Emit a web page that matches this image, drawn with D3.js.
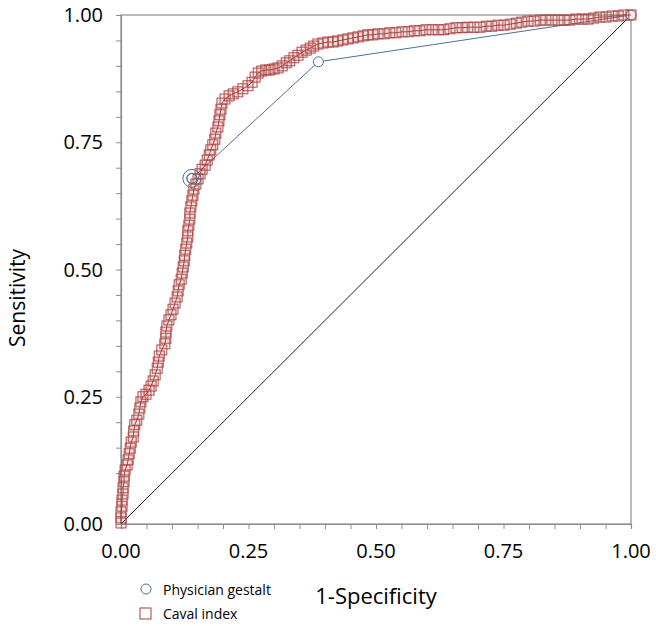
<!DOCTYPE html>
<html>
<head>
<meta charset="utf-8">
<script src="https://cdn.jsdelivr.net/npm/d3@7"></script>
<style>
  html, body { margin: 0; padding: 0; background: #fff; }
  text { font-family: "Open Sans", "Lato", sans-serif; }
</style>
</head>
<body>
<div id="chart"></div>
<script>
// ---- data ----
const tickValues = [0, 0.25, 0.5, 0.75, 1];
const tickLabels = ["0.00", "0.25", "0.50", "0.75", "1.00"];
const minorTicks = d3.range(0, 21).map(i => i / 20);

const physicianFpr  = [0.139, 0.387, 1.000];
const physicianSens = [0.679, 0.908, 1.000];
const physicianHighlight = [[0.139, 0.679]];

const cavalFpr = [
  0.000,0.000,0.000,0.002,0.002,0.004,0.004,0.006,0.006,0.008,
  0.012,0.014,0.016,0.018,0.020,0.024,0.025,0.027,0.031,0.035,
  0.037,0.039,0.043,0.049,0.055,0.059,0.063,0.067,0.071,0.073,
  0.075,0.080,0.086,0.088,0.088,0.090,0.094,0.098,0.102,0.106,
  0.110,0.112,0.114,0.118,0.120,0.122,0.124,0.125,0.127,0.129,
  0.131,0.131,0.133,0.135,0.135,0.137,0.139,0.141,0.143,0.147,
  0.151,0.155,0.159,0.165,0.169,0.173,0.176,0.180,0.184,0.186,
  0.190,0.192,0.194,0.196,0.198,0.204,0.212,0.220,0.229,0.239,
  0.249,0.257,0.263,0.269,0.276,0.284,0.292,0.300,0.308,0.316,
  0.324,0.331,0.339,0.347,0.355,0.363,0.371,0.378,0.386,0.396,
  0.406,0.416,0.425,0.435,0.445,0.455,0.465,0.475,0.484,0.494,
  0.504,0.516,0.527,0.539,0.551,0.563,0.575,0.586,0.598,0.610,
  0.622,0.633,0.645,0.657,0.669,0.680,0.692,0.704,0.716,0.727,
  0.739,0.751,0.763,0.775,0.786,0.798,0.810,0.822,0.833,0.845,
  0.857,0.869,0.880,0.892,0.904,0.916,0.927,0.939,0.951,0.963,
  0.975,0.986,1.000
];
const cavalSens = [
  0.002,0.012,0.024,0.035,0.047,0.059,0.071,0.083,0.094,0.106,
  0.116,0.126,0.138,0.149,0.161,0.171,0.183,0.195,0.204,0.216,
  0.228,0.240,0.250,0.255,0.263,0.271,0.281,0.293,0.306,0.318,
  0.330,0.342,0.354,0.365,0.377,0.389,0.401,0.411,0.422,0.434,
  0.446,0.458,0.470,0.481,0.493,0.505,0.517,0.528,0.540,0.552,
  0.564,0.576,0.587,0.599,0.611,0.623,0.635,0.646,0.658,0.668,
  0.678,0.688,0.697,0.705,0.715,0.725,0.735,0.745,0.756,0.768,
  0.780,0.792,0.804,0.815,0.827,0.835,0.841,0.845,0.849,0.855,
  0.861,0.868,0.878,0.886,0.890,0.892,0.892,0.894,0.896,0.900,
  0.906,0.910,0.916,0.921,0.927,0.931,0.935,0.939,0.943,0.945,
  0.947,0.947,0.949,0.951,0.953,0.955,0.957,0.959,0.961,0.961,
  0.963,0.963,0.965,0.965,0.967,0.967,0.969,0.969,0.971,0.971,
  0.971,0.971,0.973,0.975,0.975,0.976,0.976,0.976,0.978,0.978,
  0.980,0.980,0.982,0.984,0.986,0.988,0.988,0.990,0.990,0.990,
  0.990,0.990,0.990,0.992,0.992,0.992,0.994,0.996,0.996,0.998,
  0.998,1.000,1.000
];
const legendLabels = ["Physician gestalt", "Caval index"];

// ---- chart ----
const W = 656, H = 626;
const margin = { left: 121, top: 15, right: 25, bottom: 102 };
const iw = W - margin.left - margin.right;   // 510
const ih = H - margin.top - margin.bottom;   // 509

const svg = d3.select("#chart").append("svg")
  .attr("width", W).attr("height", H);
const g = svg.append("g").attr("transform", `translate(${margin.left},${margin.top})`);

const x = d3.scaleLinear().domain([0, 1]).range([0, iw]);
const y = d3.scaleLinear().domain([0, 1]).range([ih, 0]);

const axisColor = "#8c8c8c";

// box
g.append("rect").attr("x", 0).attr("y", 0).attr("width", iw).attr("height", ih)
  .attr("fill", "none").attr("stroke", axisColor).attr("stroke-width", 1.2);

// minor ticks
const xAxis = g.append("g").attr("transform", `translate(0,${ih})`)
  .call(d3.axisBottom(x).tickValues(minorTicks).tickSize(5).tickFormat(""));
const yAxis = g.append("g")
  .call(d3.axisLeft(y).tickValues(minorTicks).tickSize(5).tickFormat(""));
[xAxis, yAxis].forEach(a => {
  a.select(".domain").attr("stroke", axisColor).attr("stroke-width", 1.2);
  a.selectAll(".tick line").attr("stroke", axisColor);
});

// tick labels
g.append("g").selectAll("text").data(tickValues).join("text")
  .attr("x", d => x(d)).attr("y", ih + 34)
  .attr("text-anchor", "middle").attr("font-size", 20).attr("fill", "#000")
  .text((d, i) => tickLabels[i]);
g.append("g").selectAll("text").data(tickValues).join("text")
  .attr("x", -18).attr("y", d => y(d) + 7)
  .attr("text-anchor", "end").attr("font-size", 20).attr("fill", "#000")
  .text((d, i) => tickLabels[i]);

// axis titles
g.append("text").attr("x", iw / 2).attr("y", ih + 80)
  .attr("text-anchor", "middle").attr("font-size", 22).text("1-Specificity");
svg.append("text")
  .attr("transform", `translate(${25},${298}) rotate(-90)`)
  .attr("text-anchor", "middle").attr("font-size", 21).text("Sensitivity");

// diagonal
g.append("line").attr("x1", x(0)).attr("y1", y(0)).attr("x2", x(1)).attr("y2", y(1))
  .attr("stroke", "#222").attr("stroke-width", 1);

// physician gestalt
const blue = "#4d6f99";
const phys = physicianFpr.map((f, i) => [f, physicianSens[i]]);
const line = d3.line().x(d => x(d[0])).y(d => y(d[1]));
g.append("path").datum(phys).attr("d", line)
  .attr("fill", "none").attr("stroke", blue).attr("stroke-width", 1);
g.append("g").selectAll("circle").data(phys).join("circle")
  .attr("cx", d => x(d[0])).attr("cy", d => y(d[1])).attr("r", 5)
  .attr("fill", "#fff").attr("stroke", blue).attr("stroke-width", 1);

// caval index
const red = "#a63c3a";
const caval = cavalFpr.map((f, i) => [f, cavalSens[i]]);
const sq = 10;
g.append("path").datum(caval).attr("d", line)
  .attr("fill", "none").attr("stroke", red).attr("stroke-width", 1);
g.append("g").selectAll("rect").data(caval).join("rect")
  .attr("x", d => x(d[0]) - sq / 2).attr("y", d => y(d[1]) - sq / 2)
  .attr("width", sq).attr("height", sq)
  .attr("fill", "rgba(200,90,90,0.10)").attr("stroke", red).attr("stroke-width", 1)
  .attr("stroke-opacity", 0.9);

// highlight circle
g.append("g").selectAll("circle").data(physicianHighlight).join("circle")
  .attr("cx", d => x(d[0])).attr("cy", d => y(d[1])).attr("r", 9)
  .attr("fill", "none").attr("stroke", blue).attr("stroke-width", 1);
g.append("g").selectAll("circle").data(physicianHighlight).join("circle")
  .attr("cx", d => x(d[0])).attr("cy", d => y(d[1])).attr("r", 5)
  .attr("fill", "none").attr("stroke", blue).attr("stroke-width", 1);

// legend
const lg = svg.append("g");
lg.append("circle").attr("cx", 146).attr("cy", 589).attr("r", 5)
  .attr("fill", "#fff").attr("stroke", blue).attr("stroke-width", 1);
lg.append("text").attr("x", 163).attr("y", 595).attr("font-size", 14).text(legendLabels[0]);
lg.append("rect").attr("x", 140).attr("y", 608).attr("width", 11).attr("height", 11)
  .attr("fill", "#fff").attr("stroke", red).attr("stroke-width", 1);
lg.append("text").attr("x", 163).attr("y", 619).attr("font-size", 14).text(legendLabels[1]);
</script>
</body>
</html>
